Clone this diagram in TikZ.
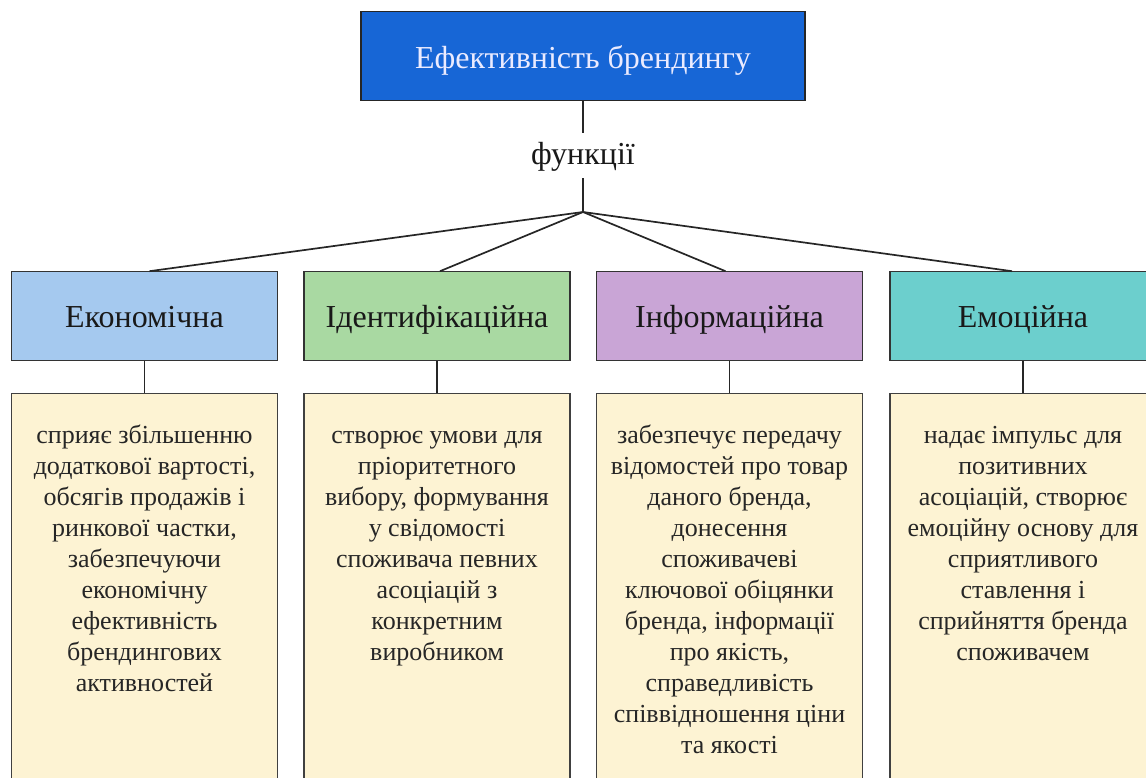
\documentclass[tikz,border=0pt]{standalone}
\usepackage{fontspec}
\setmainfont{Liberation Serif}
\begin{document}
\begin{tikzpicture}[x=1pt,y=-1pt,
  conn/.style={line width=1.7pt, draw=black!85},
  headbox/.style={draw=black!80, line width=1.2pt, minimum width=266pt, minimum height=89pt, inner sep=0pt, text height=25pt, text depth=2pt, font=\fontsize{32}{34}\selectfont, text=black!90},
  bodybox/.style={draw=black!75, line width=1.2pt, fill=bodyfill, minimum width=266pt, minimum height=420pt, inner sep=0pt},
  bodytext/.style={anchor=north, align=center, inner sep=0pt, font=\fontsize{26}{31}\selectfont, text=black!85}
]
\definecolor{titlefill}{HTML}{1766D6}
\definecolor{bodyfill}{HTML}{FDF3D3}
\definecolor{c1}{HTML}{A5C9EF}
\definecolor{c2}{HTML}{A9D9A2}
\definecolor{c3}{HTML}{C9A5D6}
\definecolor{c4}{HTML}{6CCFCD}
\useasboundingbox (0,0) rectangle (1146,778);
\clip (0,0) rectangle (1146,778);

\node[draw=black!85, line width=1.2pt, fill=titlefill, minimum width=444pt, minimum height=89pt, inner sep=0pt,
  text height=27.6pt, text depth=2pt,
  font=\fontsize{32}{34}\selectfont, text=white!92!blue] (title) at (583,56.2) {Ефективність брендингу};

\node[anchor=base, inner sep=10pt, text height=22pt, text depth=3pt, font=\fontsize{32}{34}\selectfont, text=black!90] (func) at (583,165) {функції};
\coordinate (hub) at (583,212);

\node[headbox, fill=c1] (h1) at (144.5,316.3) {Економічна};
\node[headbox, fill=c2] (h2) at (437,316.3) {Ідентифікаційна};
\node[headbox, fill=c3] (h3) at (729.5,316.3) {Інформаційна};
\node[headbox, fill=c4] (h4) at (1023,316.3) {Емоційна};

\node[bodybox, anchor=north] (b1) at (144.5,392.5) {};
\node[bodybox, anchor=north] (b2) at (437,392.5) {};
\node[bodybox, anchor=north] (b3) at (729.5,392.5) {};
\node[bodybox, anchor=north] (b4) at (1023,392.5) {};

\node[bodytext] (t1) at ([yshift=-29.3pt]b1.north) {\strut сприяє збільшенню\\додаткової вартості,\\обсягів продажів і\\ринкової частки,\\забезпечуючи\\економічну\\ефективність\\брендингових\\активностей};
\node[bodytext] (t2) at ([yshift=-29.3pt]b2.north) {\strut створює умови для\\пріоритетного\\вибору, формування\\у свідомості\\споживача певних\\асоціацій з\\конкретним\\виробником};
\node[bodytext] (t3) at ([yshift=-29.3pt]b3.north) {\strut забезпечує передачу\\відомостей про товар\\даного бренда,\\донесення\\споживачеві\\ключової обіцянки\\бренда, інформації\\про якість,\\справедливість\\співвідношення ціни\\та якості};
\node[bodytext] (t4) at ([yshift=-29.3pt]b4.north) {\strut надає імпульс для\\позитивних\\асоціацій, створює\\емоційну основу для\\сприятливого\\ставлення і\\сприйняття бренда\\споживачем};

\draw[conn] (title.south) -- (func.north);
\draw[conn] (func.south) -- (hub);
\draw[conn] (hub) -- ([xshift=5pt]h1.north);
\draw[conn] (hub) -- ([xshift=3pt]h2.north);
\draw[conn] (hub) -- ([xshift=-4pt]h3.north);
\draw[conn] (hub) -- ([xshift=-11pt]h4.north);
\foreach \i in {1,2,3,4} \draw[conn, line width=1.3pt] (h\i.south) -- (b\i.north);
\end{tikzpicture}
\end{document}
